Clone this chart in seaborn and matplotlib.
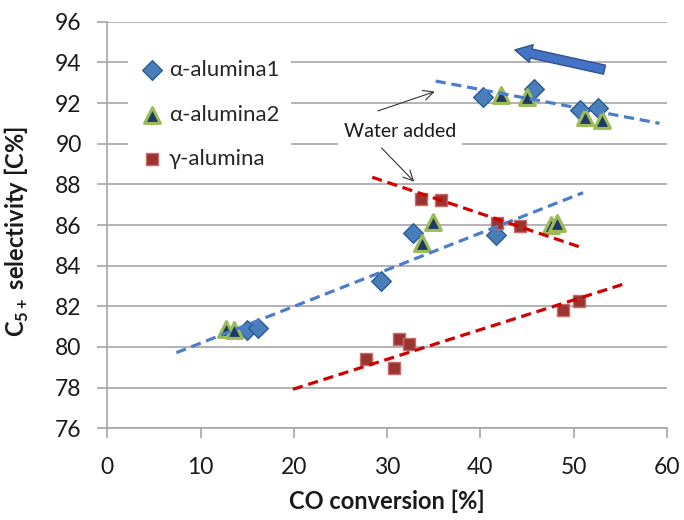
import matplotlib
matplotlib.use("Agg")
import matplotlib.pyplot as plt
import seaborn as sns
import pandas as pd

# Measured selectivity vs conversion for the three supports
alpha1_x = [15.0, 16.2, 29.3, 32.8, 41.7, 40.3, 45.7, 50.7, 52.6]
alpha1_y = [80.85, 80.95, 83.25, 85.6, 85.5, 92.3, 92.7, 91.65, 91.75]
alpha2_x = [12.7, 13.6, 33.7, 34.9, 47.6, 48.2, 42.2, 45.0, 51.2, 53.0]
alpha2_y = [80.9, 80.85, 85.1, 86.15, 86.0, 86.1, 92.4, 92.3, 91.3, 91.15]
gamma_x = [27.7, 30.7, 31.3, 32.3, 33.6, 35.8, 41.8, 44.2, 48.9, 50.6]
gamma_y = [79.4, 78.95, 80.4, 80.15, 87.3, 87.25, 86.1, 85.95, 81.8, 82.25]

series_names = ["α-alumina1", "α-alumina2", "γ-alumina"]

# Trend lines (start, end) for the dry and water-added regimes
blue_dry_x, blue_dry_y = [7.4, 51.0], [79.72, 87.59]
blue_wet_x, blue_wet_y = [35.2, 59.2], [93.08, 91.0]
red_dry_x, red_dry_y = [19.9, 55.6], [77.92, 83.13]
red_wet_x, red_wet_y = [28.4, 50.6], [88.35, 84.93]

x_ticks = [0, 10, 20, 30, 40, 50, 60]
y_ticks = [76, 78, 80, 82, 84, 86, 88, 90, 92, 94, 96]

sns.set_theme(style="white")
plt.rcParams["font.family"] = ["Lato", "DejaVu Sans"]
plt.rcParams["mathtext.fontset"] = "custom"
plt.rcParams["mathtext.bf"] = "Lato:bold"
plt.rcParams["mathtext.rm"] = "Lato"

df = pd.concat([
    pd.DataFrame({"conv": alpha1_x, "sel": alpha1_y, "cat": series_names[0]}),
    pd.DataFrame({"conv": alpha2_x, "sel": alpha2_y, "cat": series_names[1]}),
    pd.DataFrame({"conv": gamma_x, "sel": gamma_y, "cat": series_names[2]}),
], ignore_index=True)

fig = plt.figure(figsize=(6.84, 5.2), dpi=100)
ax = fig.add_axes([0.1569, 0.1763, 0.8182, 0.782])

styles = {
    series_names[0]: dict(marker="D", s=100, color="#4A7EBB", edgecolor="#2B5C8F", linewidth=1.0),
    series_names[1]: dict(marker="^", s=130, color="#1F3B63", edgecolor="#9BBB59", linewidth=2.2),
    series_names[2]: dict(marker="s", s=80, color="#9B3331", edgecolor="#C86C6A", linewidth=1.0),
}
for name in series_names:
    sub = df[df["cat"] == name]
    sns.scatterplot(data=sub, x="conv", y="sel", ax=ax, label=name, zorder=3, **styles[name])

dash = (3.2, 1.8)
for xs, ys, c in [(blue_dry_x, blue_dry_y, "#4A7EC9"), (blue_wet_x, blue_wet_y, "#4A7EC9"),
                  (red_dry_x, red_dry_y, "#D00000"), (red_wet_x, red_wet_y, "#D00000")]:
    ax.plot(xs, ys, color=c, lw=2.3, dashes=dash, zorder=4)

ax.set_xlim(0, 60)
ax.set_ylim(76, 96)
ax.set_xticks(x_ticks)
ax.set_yticks(y_ticks)
ax.yaxis.grid(True, color="#A6A6A6", lw=1.2)
ax.xaxis.grid(False)
for side in ["top", "right"]:
    ax.spines[side].set_visible(False)
for side in ["left", "bottom"]:
    ax.spines[side].set_color("#A6A6A6")
    ax.spines[side].set_linewidth(1.2)
ax.tick_params(axis="both", which="major", labelsize=16.5, color="#A6A6A6",
               length=7.5, width=1.2, direction="out", labelcolor="#1A1A1A")
ax.tick_params(axis="y", pad=11, left=True)
ax.tick_params(axis="x", pad=13, bottom=True)

ax.set_xlabel("CO conversion [%]", fontsize=17, fontweight="bold", color="#1A1A1A")
ax.set_ylabel(r"C$_\mathbf{5+}$ selectivity [C%]", fontsize=17, fontweight="bold", color="#1A1A1A")
ax.xaxis.set_label_coords(0.5, -0.152)
ax.yaxis.set_label_coords(-0.136, 0.485)

leg = ax.legend(loc="upper left", bbox_to_anchor=(0.017, 0.96), frameon=True, fontsize=16,
                labelspacing=1.1, handletextpad=0.15, borderpad=0.5, handlelength=1.2)
leg.get_frame().set_facecolor("white")
leg.get_frame().set_edgecolor("none")
leg.get_frame().set_alpha(1.0)

# Annotation: water addition
ax.text(31.4, 90.6, "Water added", fontsize=14, ha="center", va="center", color="#1A1A1A",
        bbox=dict(facecolor="white", edgecolor="none", pad=4), zorder=5)
ax.annotate("", xy=(35.1, 92.56), xytext=(29.0, 91.61),
            arrowprops=dict(arrowstyle="->,head_length=0.6,head_width=0.3", color="#333333", lw=0.8,
                            shrinkA=0, shrinkB=0), zorder=5)
ax.annotate("", xy=(32.9, 88.13), xytext=(29.4, 89.79),
            arrowprops=dict(arrowstyle="->,head_length=0.6,head_width=0.3", color="#333333", lw=0.8,
                            shrinkA=0, shrinkB=0), zorder=5)

# Direction of time on stream
ax.annotate("", xy=(43.7, 94.61), xytext=(53.3, 93.64),
            arrowprops=dict(arrowstyle="simple,head_length=0.6,head_width=0.65,tail_width=0.33",
                            fc="#4472C4", ec="#2F528F", lw=1.0, mutation_scale=20,
                            shrinkA=0, shrinkB=0), zorder=5)

fig.savefig("out.png", dpi=100)
